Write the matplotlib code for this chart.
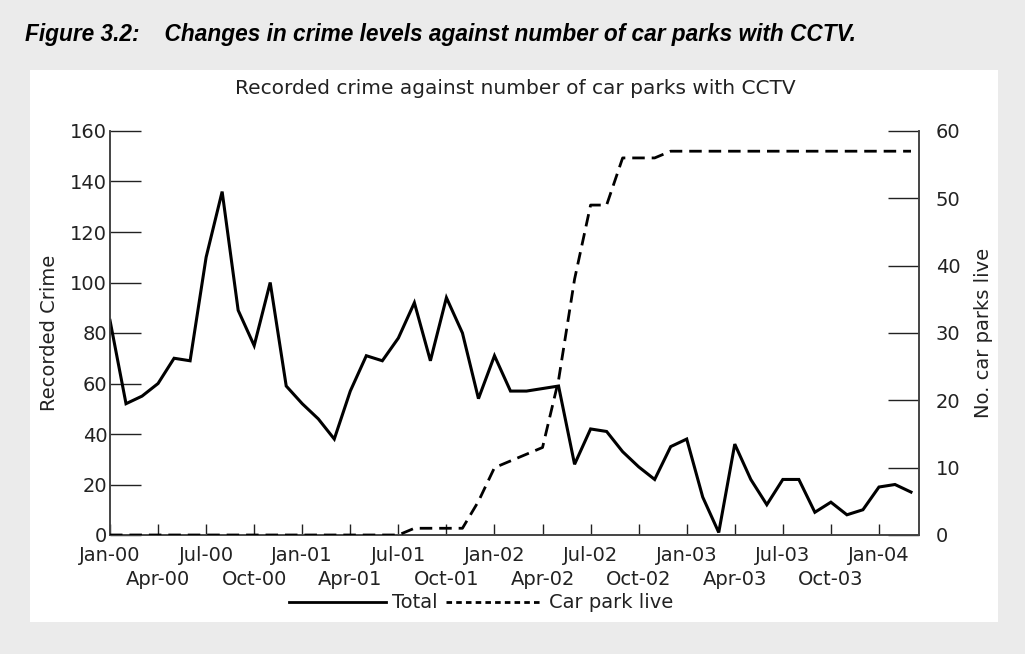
import numpy as np
import matplotlib
matplotlib.use("Agg")
import matplotlib.pyplot as plt
from matplotlib.patches import Rectangle
from matplotlib.lines import Line2D

# monthly values, Jan-00 .. Mar-04
crime = [85, 52, 55, 60, 70, 69, 110, 136, 89, 75, 100, 59, 52, 46, 38, 57, 71, 69,
         78, 92, 69, 94, 80, 54, 71, 57, 57, 58, 59, 28, 42, 41, 33, 27, 22, 35, 38,
         15, 1, 36, 22, 12, 22, 22, 9, 13, 8, 10, 19, 20, 17]
car_parks = [0, 0, 0, 0, 0, 0, 0, 0, 0, 0, 0, 0, 0, 0, 0, 0, 0, 0,
             0, 1, 1, 1, 1, 5, 10, 11, 12, 13, 23, 38, 49, 49, 56, 56, 56, 57, 57,
             57, 57, 57, 57, 57, 57, 57, 57, 57, 57, 57, 57, 57, 57]
tick_labels = ["Jan-00", "Apr-00", "Jul-00", "Oct-00", "Jan-01", "Apr-01", "Jul-01",
               "Oct-01", "Jan-02", "Apr-02", "Jul-02", "Oct-02", "Jan-03", "Apr-03",
               "Jul-03", "Oct-03", "Jan-04"]
left_ticks = [0, 20, 40, 60, 80, 100, 120, 140, 160]
right_ticks = [0, 10, 20, 30, 40, 50, 60]

W, H = 1025, 654
plt.rcParams['font.family'] = ['DejaVu Sans']
txt = '#222222'

fig = plt.figure(figsize=(W / 100, H / 100), dpi=100, facecolor='#ebebeb')
fig.patches.append(Rectangle((30 / W, 1 - 622 / H), 968 / W, 552 / H,
                             transform=fig.transFigure, facecolor='white',
                             edgecolor='none', zorder=-5))

fig.text(25 / W, 1 - 35 / H,
         "Figure 3.2:    Changes in crime levels against number of car parks with CCTV.",
         family=['Liberation Sans', 'DejaVu Sans'], weight='bold', style='italic',
         fontsize=16.3, va='center', ha='left', color='black')

ax = fig.add_axes([110 / W, 1 - 535 / H, 809 / W, 404 / H])
ax.patch.set_alpha(0)
ax2 = ax.twinx()

x = np.arange(len(crime))
ax.plot(x, crime, color='black', lw=2.2, solid_joinstyle='miter', zorder=3)
ax2.plot(x, car_parks, color='black', lw=2, dashes=(4.5, 2.5), zorder=3)

ax.set_xlim(0, 50.5)
ax.set_ylim(0, 160)
ax2.set_ylim(0, 60)

pos = np.arange(0, 49, 3)
ax.set_xticks(pos[0::2])
ax.set_xticklabels(tick_labels[0::2])
ax.set_xticks(pos[1::2], minor=True)
ax.set_xticklabels(tick_labels[1::2], minor=True)
ax.set_yticks(left_ticks)
ax2.set_yticks(right_ticks)

ax.tick_params(axis='x', which='major', direction='in', length=8, width=1, pad=8,
               labelsize=14, colors=txt)
ax.tick_params(axis='x', which='minor', direction='in', length=8, width=1, pad=25,
               labelsize=14, colors=txt)
ax.tick_params(axis='y', direction='in', length=22, width=1, pad=2, labelsize=14, colors=txt)
ax2.tick_params(axis='y', direction='in', length=22, width=1, pad=12, labelsize=14, colors=txt)

for a in (ax, ax2):
    a.spines['top'].set_visible(False)
    for s in ('left', 'right', 'bottom'):
        a.spines[s].set_color('#444444')
        a.spines[s].set_linewidth(1.2)

ax.set_ylabel("Recorded Crime", fontsize=14, color=txt, labelpad=8)
ax2.set_ylabel("No. car parks live", fontsize=14, color=txt, labelpad=10)

fig.text(515 / W, 1 - 88 / H, "Recorded crime against number of car parks with CCTV",
         fontsize=14.5, ha='center', va='center', color=txt)

handles = [Line2D([], [], color='black', lw=2),
           Line2D([], [], color='black', lw=2, dashes=(2, 1.5))]
fig.legend(handles, ["Total", "Car park live"], loc='center', ncol=2,
           bbox_to_anchor=(481 / W, 1 - 603 / H), frameon=False, fontsize=14,
           handlelength=5, handletextpad=0.3, columnspacing=0.4, labelcolor=txt)

fig.savefig("out.png", dpi=100, facecolor=fig.get_facecolor())
